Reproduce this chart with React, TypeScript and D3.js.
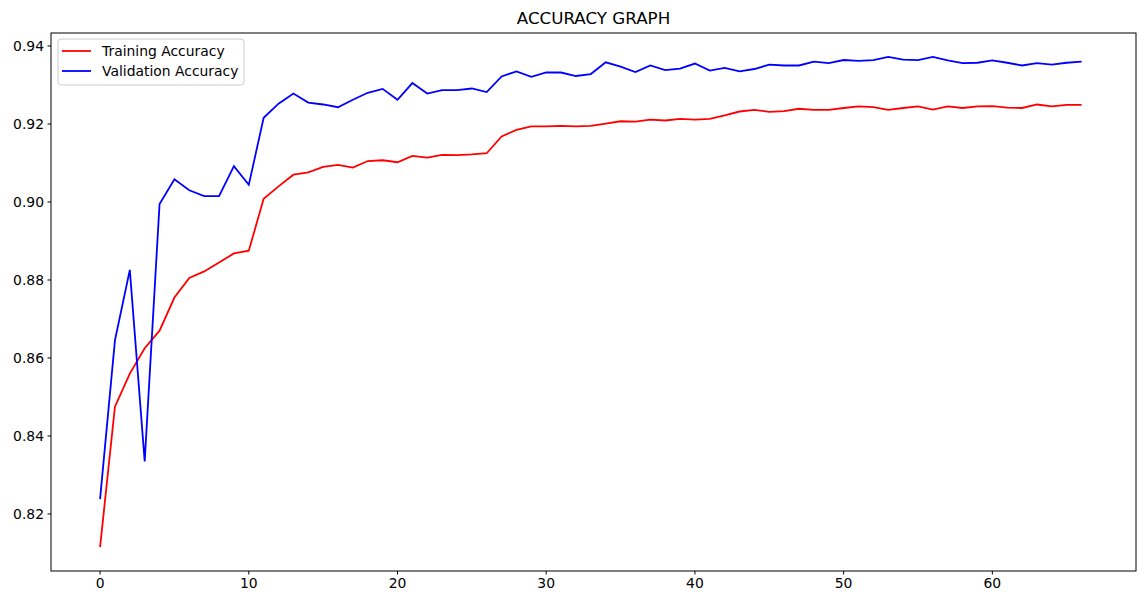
import React, { useEffect, useRef } from 'react';
import * as d3 from 'd3';

const trainAcc = [
  0.8115, 0.8475, 0.856, 0.8625, 0.867, 0.8755, 0.8805, 0.8822, 0.8845, 0.8868,
  0.8875, 0.9008, 0.904, 0.907, 0.9076, 0.909, 0.9095, 0.9088, 0.9105, 0.9107,
  0.9102, 0.9118, 0.9114, 0.9121, 0.912, 0.9122, 0.9125, 0.9168, 0.9185, 0.9194,
  0.9194, 0.9195, 0.9194, 0.9195, 0.9201, 0.9207, 0.9206, 0.9211, 0.9209, 0.9213,
  0.9211, 0.9213, 0.9222, 0.9232, 0.9236, 0.9231, 0.9233, 0.9239, 0.9236, 0.9236,
  0.9241, 0.9245, 0.9243, 0.9236, 0.9241, 0.9245, 0.9237, 0.9245, 0.9241, 0.9245,
  0.9246, 0.9242, 0.9241, 0.925, 0.9245, 0.9249, 0.9249,
];
const valAcc = [
  0.8238, 0.8645, 0.8826, 0.8335, 0.8995, 0.9058, 0.903, 0.9015, 0.9015, 0.9092,
  0.9044, 0.9216, 0.9252, 0.9278, 0.9255, 0.925, 0.9243, 0.9262, 0.928, 0.929,
  0.9262, 0.9305, 0.9278, 0.9287, 0.9287, 0.9291, 0.9282, 0.9322, 0.9335, 0.9321,
  0.9332, 0.9332, 0.9323, 0.9328, 0.9358, 0.9347, 0.9333, 0.935, 0.9338, 0.9342,
  0.9355, 0.9337, 0.9344, 0.9335, 0.9341, 0.9352, 0.935, 0.935, 0.936, 0.9356,
  0.9364, 0.9362, 0.9364, 0.9372, 0.9365, 0.9364, 0.9372, 0.9363, 0.9356, 0.9357,
  0.9363, 0.9357, 0.935, 0.9356, 0.9352, 0.9357, 0.936,
];
const xTicks = [0, 10, 20, 30, 40, 50, 60];
const yTicks = [0.82, 0.84, 0.86, 0.88, 0.9, 0.92, 0.94];

const W = 1145, H = 605;
const L = 51, R = 1136, T = 33, B = 571;

export default function App() {
  const ref = useRef<SVGSVGElement>(null);

  useEffect(() => {
    const svg = d3.select(ref.current);
    svg.selectAll('*').remove();
    const font = 'DejaVu Sans, sans-serif';

    const x = d3.scaleLinear().domain([-3.3, 69.66]).range([L, R]);
    const y = d3.scaleLinear().domain([0.80538, 0.94333]).range([B, T]);

    const line = d3.line<number>().x((_, i) => x(i)).y(d => y(d));
    svg.append('path').datum(trainAcc).attr('d', line)
      .attr('fill', 'none').attr('stroke', '#ff0000').attr('stroke-width', 1.8);
    svg.append('path').datum(valAcc).attr('d', line)
      .attr('fill', 'none').attr('stroke', '#0000ff').attr('stroke-width', 1.8);

    // frame
    svg.append('rect').attr('x', L).attr('y', T).attr('width', R - L).attr('height', B - T)
      .attr('fill', 'none').attr('stroke', '#000').attr('stroke-width', 1);

    const xa = svg.append('g');
    xTicks.forEach(t => {
      xa.append('line').attr('x1', x(t)).attr('x2', x(t)).attr('y1', B).attr('y2', B + 3.5)
        .attr('stroke', '#000').attr('stroke-width', 1);
      xa.append('text').attr('x', x(t)).attr('y', B + 17).attr('text-anchor', 'middle')
        .attr('font-family', font).attr('font-size', '13.9px').text(String(t));
    });
    const ya = svg.append('g');
    yTicks.forEach(t => {
      ya.append('line').attr('x1', L - 3.5).attr('x2', L).attr('y1', y(t)).attr('y2', y(t))
        .attr('stroke', '#000').attr('stroke-width', 1);
      ya.append('text').attr('x', L - 7).attr('y', y(t)).attr('dy', '0.35em').attr('text-anchor', 'end')
        .attr('font-family', font).attr('font-size', '13.9px').text(t.toFixed(2));
    });

    svg.append('text').attr('x', (L + R) / 2).attr('y', 24).attr('text-anchor', 'middle')
      .attr('font-family', font).attr('font-size', '16.7px').text('ACCURACY GRAPH');

    // legend
    const lg = svg.append('g').attr('transform', `translate(${L + 7},${T + 6})`);
    lg.append('rect').attr('width', 186).attr('height', 46).attr('rx', 3)
      .attr('fill', '#fff').attr('fill-opacity', 0.8).attr('stroke', '#ccc');
    [['Training Accuracy', '#ff0000'], ['Validation Accuracy', '#0000ff']].forEach(([name, c], i) => {
      const yy = 12 + i * 20;
      lg.append('line').attr('x1', 4).attr('x2', 33).attr('y1', yy).attr('y2', yy)
        .attr('stroke', c).attr('stroke-width', 1.8);
      lg.append('text').attr('x', 44).attr('y', yy).attr('dy', '0.35em')
        .attr('font-family', font).attr('font-size', '13.9px').text(name);
    });
  }, []);

  return (
    <svg ref={ref} width={W} height={H}
      style={{ position: 'absolute', left: 0, top: 0, background: '#fff' }} />
  );
}
